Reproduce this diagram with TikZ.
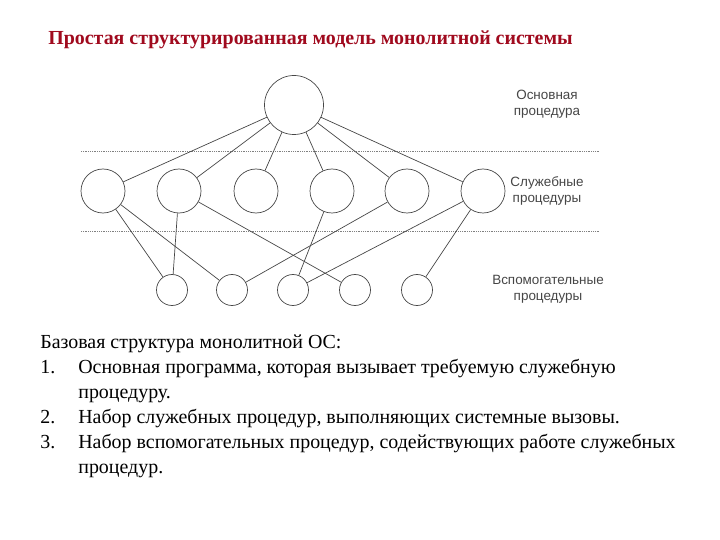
\documentclass[tikz,border=0pt]{standalone}
\usepackage{fontspec}
\setmainfont{Liberation Serif}
\newfontfamily\labelfont{Liberation Sans}
\usetikzlibrary{graphs}
\definecolor{titlered}{RGB}{160,10,30}
\definecolor{scangray}{RGB}{70,70,70}
\tikzset{
  mainproc/.style= {draw=scangray, circle, minimum size=59bp, inner sep=0},
  servproc/.style= {draw=scangray, circle, minimum size=44bp, inner sep=0},
  helpproc/.style= {draw=scangray, circle, minimum size=31bp, inner sep=0},
  level/.style= {gray, densely dotted, line width=0.8bp},
  levellabel/.style= {text=scangray, font=\labelfont\fontsize{13.5}{16.5}\selectfont, align=center},
  bodytext/.style= {anchor=base west, inner sep=0, font=\fontsize{20}{24}\selectfont},
}

\begin{document}
\begin{tikzpicture}[x=1bp, y=-1bp, line width=0.7bp]
  \useasboundingbox (0,0) rectangle (720,540);
  \node [anchor=base west, inner sep=0, text=titlered, font=\bfseries\fontsize{20}{24}\selectfont] (title) at (48,45) {Простая структурированная модель монолитной системы};

  % levels
  \coordinate (l1a) at (81,151) ;
  \coordinate (l1b) at (600,151) ;
  \coordinate (l2a) at (81,231) ;
  \coordinate (l2b) at (600,231) ;
  \draw [level] (l1a) -- (l1b) ;
  \draw [level] (l2a) -- (l2b) ;

  \node [mainproc] (m) at (294,105) {} ;
  \node [servproc] (s1) at (103,191) {} ;
  \node [servproc] (s2) at (179,191) {} ;
  \node [servproc] (s3) at (256,191) {} ;
  \node [servproc] (s4) at (332,191) {} ;
  \node [servproc] (s5) at (407,191) {} ;
  \node [servproc] (s6) at (483,191) {} ;
  \node [helpproc] (h1) at (172,290) {} ;
  \node [helpproc] (h2) at (232,290) {} ;
  \node [helpproc] (h3) at (293,290) {} ;
  \node [helpproc] (h4) at (355,290) {} ;
  \node [helpproc] (h5) at (417,290) {} ;

  \graph [edges={scangray}] {
    (m) -- (s1) ; (m) -- (s2) ; (m) -- (s3) ;
    (m) -- (s4) ; (m) -- (s5) ; (m) -- (s6) ;
    (s1) -- (h1) ; (s1) -- (h2) ;
    (s2) -- (h1) ; (s2) -- (h4) ;
    (s4) -- (h3) ;
    (s5) -- (h2) ;
    (s6) -- (h3) ; (s6) -- (h5) ;
  } ;

  \node [levellabel] (lmain) at (547,104) {Основная\\процедура} ;
  \node [levellabel] (lserv) at (547,191) {Служебные\\процедуры} ;
  \node [levellabel] (lhelp) at (548,289) {Вспомогательные\\процедуры} ;

  % text below the picture
  \node [bodytext] (intro) at (40,348) {Базовая структура монолитной ОС:} ;
  \node [bodytext] (n1) at (40,373) {1.} ;
  \node [bodytext] (t1) at (78,373) {Основная программа, которая вызывает требуемую служебную} ;
  \node [bodytext] (t1b) at (78,398) {процедуру.} ;
  \node [bodytext] (n2) at (40,423) {2.} ;
  \node [bodytext] (t2) at (78,423) {Набор служебных процедур, выполняющих системные вызовы.} ;
  \node [bodytext] (n3) at (40,448) {3.} ;
  \node [bodytext] (t3) at (78,448) {Набор вспомогательных процедур, содействующих работе служебных} ;
  \node [bodytext] (t3b) at (78,473) {процедур.} ;
\end{tikzpicture}
\end{document}
